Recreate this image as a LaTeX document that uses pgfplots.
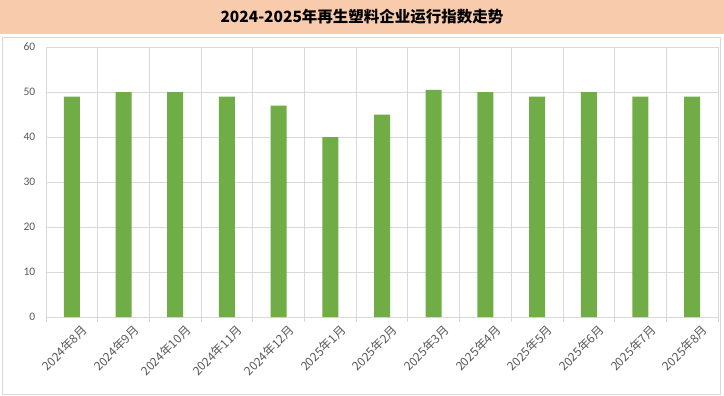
\documentclass[border=0pt]{standalone}
\usepackage{pgfplots}
\pgfplotsset{compat=1.18}
\usepackage{fontspec}
\setmainfont{Carlito}
\newfontfamily\cjk{Noto Sans CJK SC}
\definecolor{peach}{HTML}{F8CBAD}
\definecolor{barg}{HTML}{70AD47}
\definecolor{gridc}{HTML}{D9D9D9}
\definecolor{txt}{HTML}{595959}
\begin{document}
\begin{tikzpicture}
\useasboundingbox (0,0) rectangle (724bp,396bp);
\fill[white] (0,0) rectangle (724bp,396bp);
\fill[peach] (0,362bp) rectangle (724bp,396bp);
\draw[gridc, line width=1bp] (2.5bp,1.5bp) rectangle (720.5bp,358.5bp);
\node[font={\cjk\bfseries\fontsize{15.5bp}{18bp}\selectfont}, text=black] at (362bp,379bp) {2024-2025年再生塑料企业运行指数走势};
\begin{axis}[
  at={(46bp,79bp)}, anchor=south west,
  scale only axis, width=672bp, height=270bp,
  ybar, bar width=16bp,
  xmin=-0.5, xmax=12.5, ymin=0, ymax=60,
  ytick={0,10,...,60},
  xtick={0,...,12},
  xticklabels={2024年8月,2024年9月,2024年10月,2024年11月,2024年12月,2025年1月,2025年2月,2025年3月,2025年4月,2025年5月,2025年6月,2025年7月,2025年8月},
  minor xtick={-0.5,0.5,...,12.5},
  xminorgrids, ymajorgrids,
  grid style={draw=gridc, line width=0.75bp},
  minor grid style={draw=gridc, line width=0.75bp},
  axis x line=bottom, axis y line=left,
  x axis line style={draw=gridc, line width=0.75bp, -},
  y axis line style={draw=none},
  major x tick style={draw=none},
  minor x tick style={draw=gridc, line width=0.75bp},
  y tick style={draw=none},
  tick align=outside,
  minor tick length=5bp,
  /pgf/number format/assume math mode=true,
  yticklabel style={font=\fontsize{11.5bp}{13bp}\selectfont, text=txt, xshift=-3bp},
  xticklabel style={font={\cjk\fontsize{12bp}{14bp}\selectfont}, text=txt, rotate=45, anchor=east, xshift=8bp, yshift=-14bp},
  clip=false,
]
\addplot[fill=barg, draw=none] coordinates {
(0,49) (1,50) (2,50) (3,49) (4,47) (5,40) (6,45) (7,50.5) (8,50) (9,49) (10,50) (11,49) (12,49)};
\end{axis}
\end{tikzpicture}
\end{document}
